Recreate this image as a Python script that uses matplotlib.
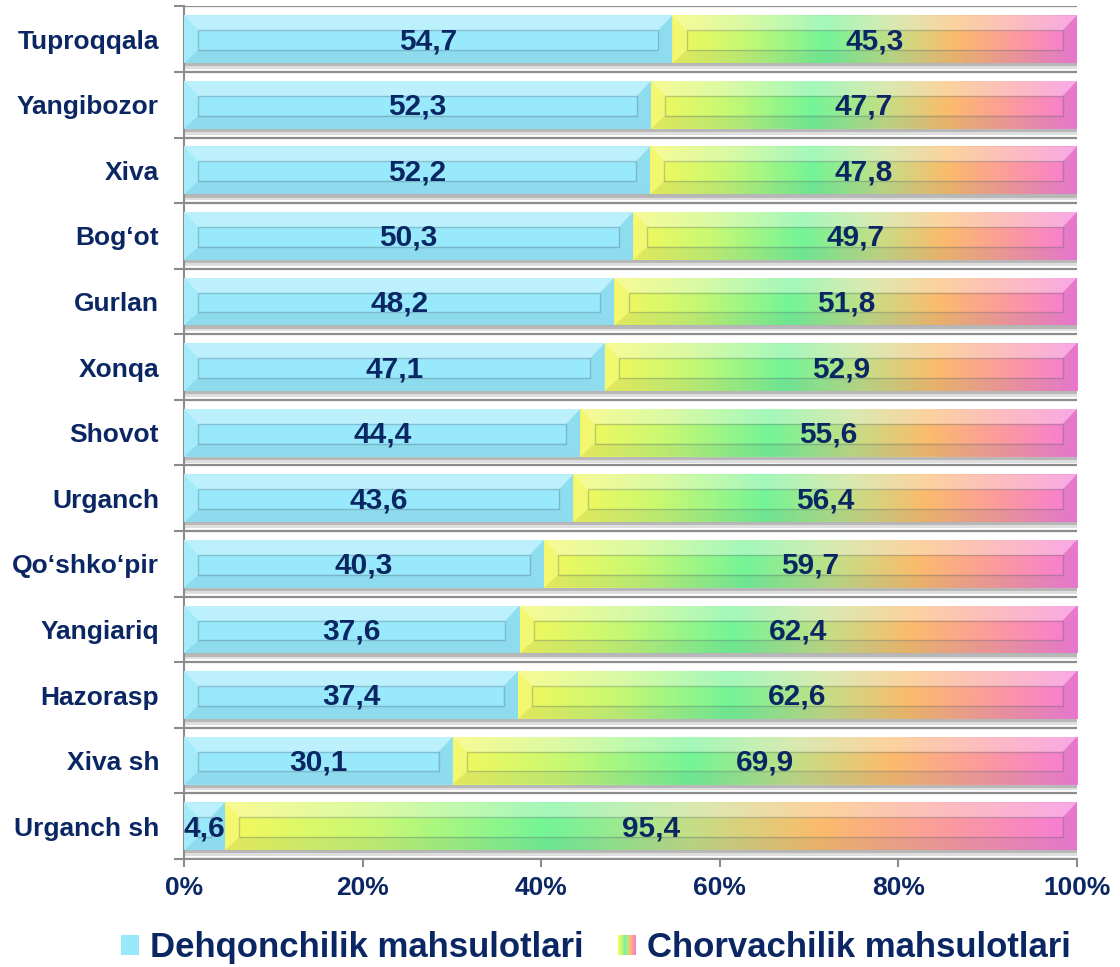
import numpy as np
import matplotlib
matplotlib.use('Agg')
import matplotlib.pyplot as plt
from matplotlib.colors import LinearSegmentedColormap
from matplotlib.patches import Rectangle, Polygon, Patch
from matplotlib.legend_handler import HandlerBase

categories = ['Tuproqqala', 'Yangibozor', 'Xiva', 'Bog\u2018ot', 'Gurlan', 'Xonqa', 'Shovot',
              'Urganch', 'Qo\u2018shko\u2018pir', 'Yangiariq', 'Hazorasp', 'Xiva sh', 'Urganch sh']
dehqon = [54.7, 52.3, 52.2, 50.3, 48.2, 47.1, 44.4, 43.6, 40.3, 37.6, 37.4, 30.1, 4.6]
chorva = [45.3, 47.7, 47.8, 49.7, 51.8, 52.9, 55.6, 56.4, 59.7, 62.4, 62.6, 69.9, 95.4]
series_names = ['Dehqonchilik mahsulotlari', 'Chorvachilik mahsulotlari']

navy = '#0b2763'
blue = '#97e9fb'
grad = LinearSegmentedColormap.from_list('chorva', [
    (0.0, '#f4f85c'), (0.18, '#c6f874'), (0.38, '#74f497'), (0.55, '#c6de86'),
    (0.70, '#fbbb6c'), (0.85, '#fb9a9e'), (1.0, '#f67bd8')])

plt.rcParams['font.family'] = ['Liberation Sans', 'DejaVu Sans']
plt.rcParams['font.weight'] = 'bold'

fig = plt.figure(figsize=(11.2, 9.67), dpi=100)
ax = fig.add_axes([0.1643, 0.1117, 0.7973, 0.8817])

y = np.arange(len(categories))
h = 0.73
bars1 = ax.barh(y, dehqon, height=h, color=blue, label=series_names[0], zorder=3)
bars2 = ax.barh(y, chorva, left=dehqon, height=h, facecolor='none', edgecolor='none',
                label=series_names[1], zorder=3)

gimg = grad(np.linspace(0, 1, 256))[None, :, :]


def bevel(x0, x1, ya, yb):
    bx = min(1.6, (x1 - x0) / 2)
    by1, by2 = 0.23, 0.2
    top = [(x0, ya), (x1, ya), (x1 - bx, ya + by1), (x0 + bx, ya + by1)]
    bot = [(x0, yb), (x1, yb), (x1 - bx, yb - by2), (x0 + bx, yb - by2)]
    lef = [(x0, ya), (x0 + bx, ya + by1), (x0 + bx, yb - by2), (x0, yb)]
    rig = [(x1, ya), (x1 - bx, ya + by1), (x1 - bx, yb - by2), (x1, yb)]
    ax.add_patch(Polygon(top, closed=True, facecolor='white', alpha=0.35, lw=0, zorder=5))
    ax.add_patch(Polygon(bot, closed=True, facecolor='#305060', alpha=0.09, lw=0, zorder=5))
    ax.add_patch(Polygon(lef, closed=True, facecolor='white', alpha=0.12, lw=0, zorder=5))
    ax.add_patch(Polygon(rig, closed=True, facecolor='#305060', alpha=0.08, lw=0, zorder=5))
    if x1 - x0 > 3.3:
        ax.add_patch(Rectangle((x0 + bx, ya + by1), x1 - x0 - 2 * bx, yb - by2 - ya - by1,
                               facecolor='none', edgecolor='#506070', alpha=0.3, lw=1, zorder=6))


for b in list(bars1) + list(bars2):
    x0, yy = b.get_x(), b.get_y()
    yb = yy + b.get_height()
    # shadow under the bar
    ax.add_patch(Rectangle((x0, yb), b.get_width(), 0.05, facecolor='#b8b8b8', lw=0, zorder=2))
    ax.add_patch(Rectangle((x0, yb + 0.05), b.get_width(), 0.04, facecolor='#dedede', lw=0, zorder=2))
for b in bars2:
    x0, yy = b.get_x(), b.get_y()
    x1, yb = x0 + b.get_width(), yy + b.get_height()
    im = ax.imshow(gimg, extent=(x0, x1, yb, yy), aspect='auto', interpolation='bilinear', zorder=4)
    im.set_clip_path(b)
for b in list(bars1) + list(bars2):
    x0, yy = b.get_x(), b.get_y()
    bevel(x0, x0 + b.get_width(), yy, yy + b.get_height())

ax.set_xlim(0, 100)
ax.set_ylim(len(categories) - 0.5, -0.5)

for i in range(len(categories)):
    ax.text(dehqon[i] / 2, y[i] + 0.03, f'{dehqon[i]:.1f}'.replace('.', ','), ha='center', va='center',
            fontsize=21.5, fontweight='bold', color=navy, zorder=8)
    ax.text(dehqon[i] + chorva[i] / 2, y[i] + 0.03, f'{chorva[i]:.1f}'.replace('.', ','), ha='center',
            va='center', fontsize=21.5, fontweight='bold', color=navy, zorder=8)

ax.set_yticks(y)
ax.set_yticklabels(categories)
ax.set_yticks(np.arange(-0.5, len(categories)), minor=True)
ax.tick_params(axis='y', which='major', length=0, pad=18, labelsize=19, labelcolor=navy)
ax.tick_params(axis='y', which='minor', length=7, width=1.5, color='#8c8c8c')
ax.set_xticks(np.arange(0, 101, 20))
ax.set_xticklabels([f'{v}%' for v in range(0, 101, 20)])
ax.tick_params(axis='x', which='major', length=6, width=1.5, color='#8c8c8c', pad=6,
               labelsize=19, labelcolor=navy)
ax.grid(axis='y', which='minor', color='#8c8c8c', lw=1.6, zorder=1)
ax.grid(axis='y', which='major', visible=False)
for s in ['top', 'right']:
    ax.spines[s].set_visible(False)
for s in ['left', 'bottom']:
    ax.spines[s].set_color('#8c8c8c')
    ax.spines[s].set_linewidth(1.5)


class GradHandler(HandlerBase):
    def create_artists(self, legend, orig_handle, xdescent, ydescent, width, height, fontsize, trans):
        n = 24
        arts = []
        for k in range(n):
            arts.append(Rectangle((-xdescent + k * width / n, -ydescent), width / n * 1.05, height,
                                  facecolor=grad(k / (n - 1)), lw=0, transform=trans))
        return arts


h1 = Patch(facecolor=blue, edgecolor='none')
h2 = Patch(facecolor='none')
leg = fig.legend([h1, h2], series_names, loc='center', bbox_to_anchor=(0.532, 0.020), ncol=2,
                 frameon=False, fontsize=25, handlelength=0.52, handleheight=0.52,
                 handletextpad=0.3, columnspacing=1.0, handler_map={h2: GradHandler()})
for t in leg.get_texts():
    t.set_color(navy)
    t.set_fontweight('bold')

fig.savefig('out.png', dpi=100)
